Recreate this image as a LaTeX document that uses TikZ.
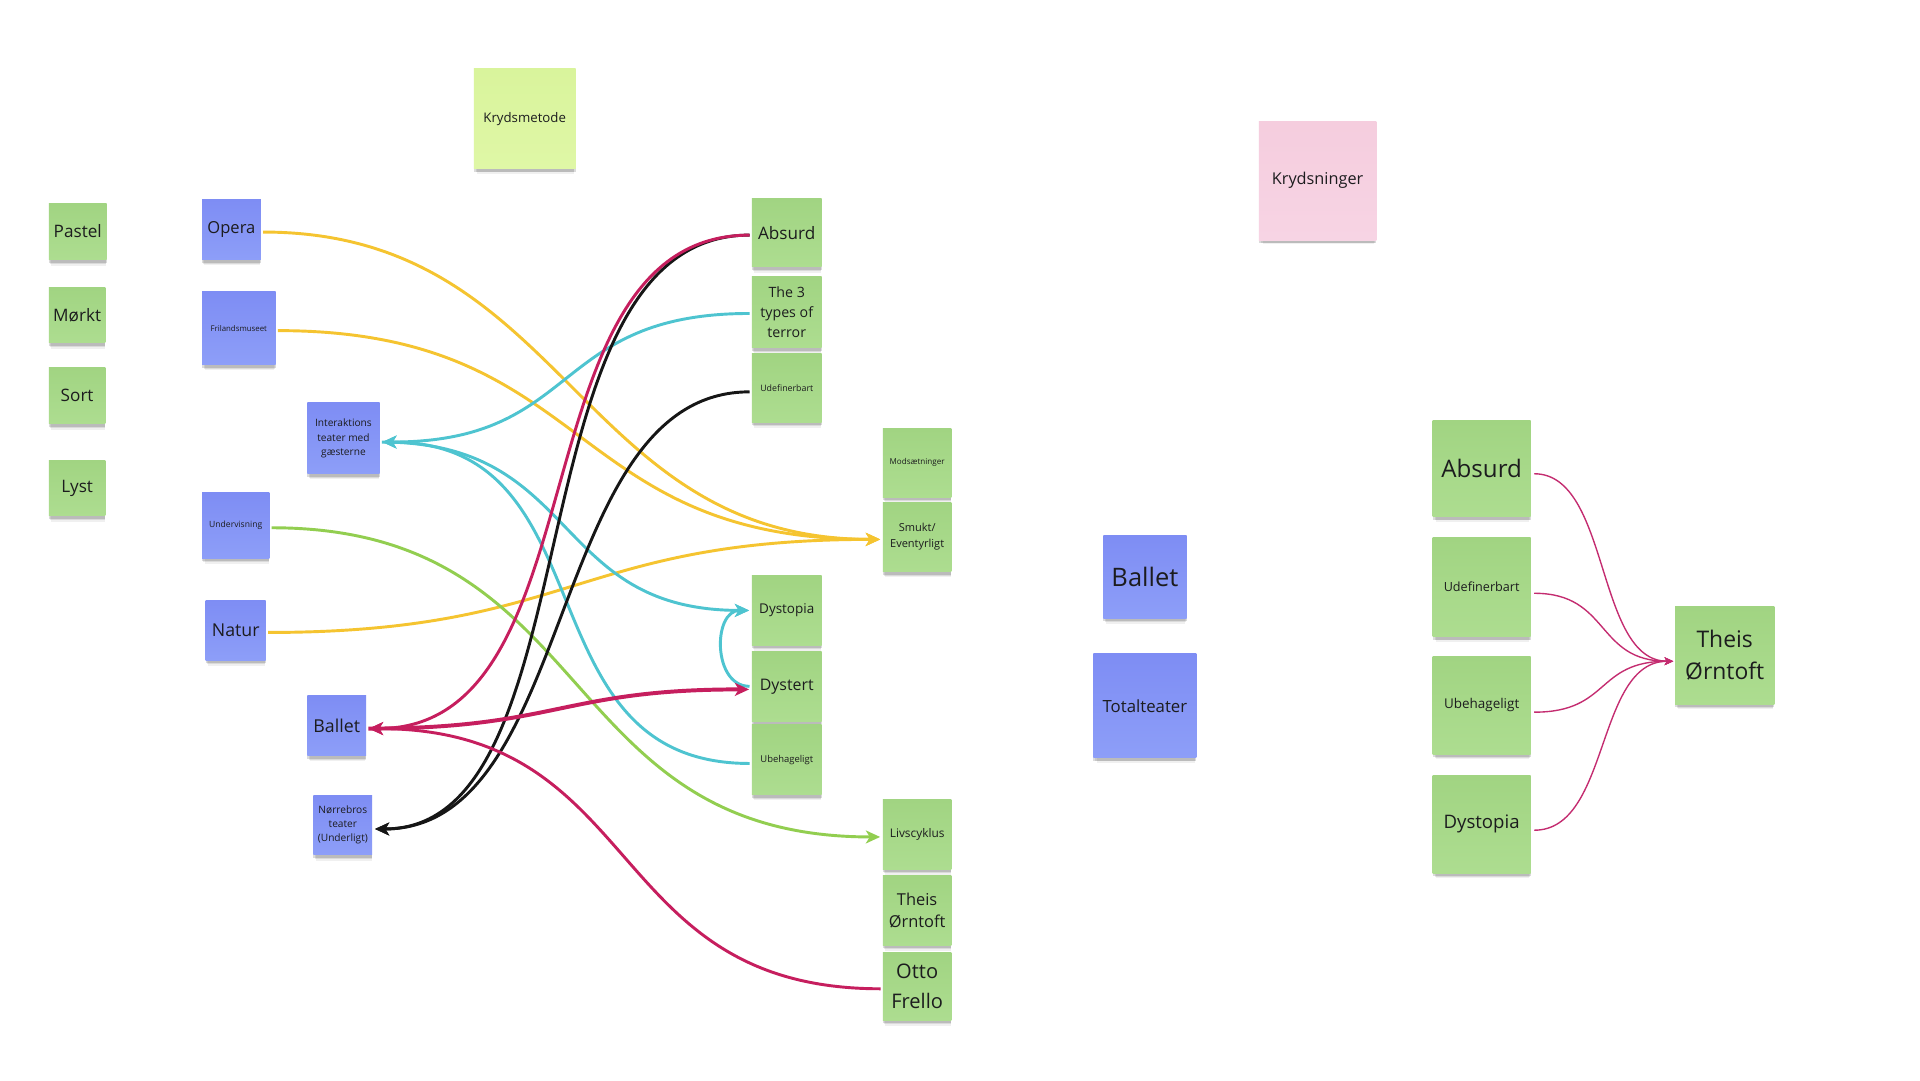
\documentclass[tikz,border=0pt]{standalone}
\usepackage{fontspec}
\setmainfont{Open Sans}
\usetikzlibrary{shadows,arrows.meta}
\definecolor{txt}{RGB}{28,28,30}
\definecolor{gtop}{RGB}{161,212,130}
\definecolor{gbot}{RGB}{173,221,144}
\definecolor{btop}{RGB}{126,141,244}
\definecolor{bbot}{RGB}{141,158,248}
\definecolor{ptop}{RGB}{245,205,222}
\definecolor{pbot}{RGB}{247,212,228}
\definecolor{ltop}{RGB}{217,244,156}
\definecolor{lbot}{RGB}{223,247,166}
\definecolor{yel}{RGB}{245,196,48}
\definecolor{cya}{RGB}{78,196,208}
\definecolor{mag}{RGB}{198,30,94}
\definecolor{blk}{RGB}{22,22,22}
\definecolor{grn}{RGB}{146,206,80}
\definecolor{magtwo}{RGB}{196,44,112}
\newcommand\fszl[2]{\pgfmathsetmacro\fszA{#1*1.4226}\pgfmathsetmacro\fszB{#1*1.4226*#2}\fontsize{\fszA pt}{\fszB pt}\selectfont}
\newcommand\fsz[1]{\fszl{#1}{1.38}}
\tikzset{
  note/.style={rectangle, inner sep=0pt, align=center, text=txt,
    drop shadow={shadow xshift=1pt, shadow yshift=-9pt, opacity=0.06, shadow scale=0.95, fill=black},
    drop shadow={shadow xshift=0.5pt, shadow yshift=-6pt, opacity=0.09, shadow scale=0.97, fill=black},
    drop shadow={shadow xshift=0pt, shadow yshift=-3.5pt, opacity=0.14, fill=black}},
  gnote/.style={note, top color=gtop, bottom color=gbot},
  bnote/.style={note, top color=btop, bottom color=bbot},
  pnote/.style={note, top color=ptop, bottom color=pbot},
  lnote/.style={note, top color=ltop, bottom color=lbot},
  sz/.style 2 args={minimum width=#1*0.5mm, minimum height=#2*0.5mm},
  conn/.style={line width=3.4pt, shorten <=2.5pt, shorten >=3pt},
  arr/.style={-{Stealth[length=16.5pt, width=15pt, inset=4.5pt]}},
  thinconn/.style={line width=1.6pt, magtwo, shorten <=4pt, shorten >=2pt,
    -{Stealth[length=10pt, width=9pt, inset=2.5pt]}},
}
\begin{document}
\begin{tikzpicture}[x=0.5mm, y=-0.5mm]
\useasboundingbox[fill=white] (0,0) rectangle (1568,882);

% left green column
\node[gnote, sz={47}{46}, font=\fsz{14}] (pastel) at (63.5,189) {Pastel};
\node[gnote, sz={46}{45}, font=\fsz{14}] (morkt) at (63,257.5) {Mørkt};
\node[gnote, sz={46}{46}, font=\fsz{14}] (sort) at (63,323) {Sort};
\node[gnote, sz={46}{45}, font=\fsz{14}] (lyst) at (63,398.5) {Lyst};

% blue column
\node[bnote, sz={48}{49}, font=\fsz{13.5}] (opera) at (189,187.5) {Opera};
\node[bnote, sz={60}{60}, font=\fsz{6.4}] (friland) at (195,268) {Frilandsmuseet};
\node[bnote, sz={59}{58}, font={\fszl{8.3}{1.45}}] (interak) at (280.5,358) {Interaktions\\teater med\\gæsterne};
\node[bnote, sz={55}{54}, font=\fsz{7}] (underv) at (192.5,429) {Undervisning};
\node[bnote, sz={49}{49}, font=\fsz{14.5}] (natur) at (192.5,514.5) {Natur};
\node[bnote, sz={48}{49}, font=\fsz{14.5}] (balletl) at (275,592.5) {Ballet};
\node[bnote, sz={48}{48}, font=\fsz{8.3}] (norre) at (280,674) {Nørrebros\\teater\\(Underligt)};

\node[lnote, sz={83}{82}, font=\fsz{10.8}] (krydsm) at (428.5,97) {Krydsmetode};

% middle green column
\node[gnote, sz={57}{56}, font=\fsz{14}] (absurd) at (642.5,190) {Absurd};
\node[gnote, sz={57}{58}, font=\fsz{11.6}] (terror) at (642.5,255) {The 3\\types of\\terror};
\node[gnote, sz={57}{56}, font=\fsz{7.2}] (udef) at (642.5,317) {Udefinerbart};
\node[gnote, sz={57}{57}, font=\fsz{11}] (dystopia) at (642.5,498.5) {Dystopia};
\node[gnote, sz={57}{57}, font=\fsz{13}] (dystert) at (642.5,560.5) {Dystert};
\node[gnote, sz={57}{57}, font=\fsz{7.7}] (ubehag) at (642.5,620.5) {Ubehageligt};

% right green column
\node[gnote, sz={56}{56}, font=\fsz{6.6}] (mods) at (749,378) {Modsætninger};
\node[gnote, sz={56}{57}, font={\fszl{9}{1.45}}] (smukt) at (749,438.5) {Smukt/\\Eventyrligt};
\node[gnote, sz={56}{57}, font=\fsz{9.7}] (livs) at (749,681.5) {Livscyklus};
\node[gnote, sz={56}{57}, font={\fszl{13.4}{1.34}}] (theism) at (749,743.5) {Theis\\Ørntoft};
\node[gnote, sz={56}{55}, font={\fszl{16.4}{1.46}}] (otto) at (749,805.5) {Otto\\Frello};

% right part
\node[pnote, sz={96}{97}, font=\fsz{13.3}] (krydsn) at (1076,147.5) {Krydsninger};
\node[bnote, sz={68}{68}, font=\fsz{20.8}] (balletr) at (935,471) {Ballet};
\node[bnote, sz={84}{85}, font=\fsz{13.7}] (total) at (935,576.5) {Totalteater};

\node[gnote, sz={80}{79}, font=\fsz{19.7}] (rabsurd) at (1210,382.5) {Absurd};
\node[gnote, sz={80}{81}, font=\fsz{10.3}] (rudef) at (1210,479.5) {Udefinerbart};
\node[gnote, sz={80}{80}, font=\fsz{11}] (rubeh) at (1210,576) {Ubehageligt};
\node[gnote, sz={80}{80}, font=\fsz{15.2}] (rdyst) at (1210,673) {Dystopia};
\node[gnote, sz={81}{80}, font={\fszl{18.7}{1.39}}] (rtheis) at (1408.5,535) {Theis\\Ørntoft};

% ---- connectors ----
% yellow
\draw[conn, yel, arr] ([yshift=-1mm]opera.east) .. controls +(250,0) and +(-250,0) .. ([yshift=-1mm]smukt.west);
\draw[conn, yel, arr] ([yshift=-1mm]friland.east) .. controls +(260,0) and +(-260,0) .. ([yshift=-1mm]smukt.west);
\draw[conn, yel, arr] ([yshift=-1mm]natur.east) .. controls +(250,0) and +(-250,0) .. ([yshift=-1mm]smukt.west);
% green
\draw[conn, grn, arr] ([yshift=-1mm]underv.east) .. controls +(270,0) and +(-270,0) .. ([yshift=-1mm]livs.west);
% cyan
\draw[conn, cya, arr] ([yshift=-0.5mm]terror.west) .. controls +(-165,0) and +(165,0) .. ([yshift=-1.5mm]interak.east);
\draw[conn, cya, arr] ([yshift=-1.5mm]interak.east) .. controls +(165,0) and +(-165,0) .. ([yshift=0mm]dystopia.west);
\draw[conn, cya, arr] ([yshift=-1.5mm]ubehag.west) .. controls +(-190,0) and +(190,0) .. ([yshift=-1.5mm]interak.east);
\draw[conn, cya, arr] ([yshift=0mm]dystert.west) .. controls +(-32,0) and +(-32,0) .. ([yshift=0mm]dystopia.west);
% black
\draw[conn, blk, arr] ([yshift=-1mm]absurd.west) .. controls +(-200,0) and +(185,0) .. ([yshift=-1.5mm]norre.east);
\draw[conn, blk, arr] ([yshift=-1.5mm]udef.west) .. controls +(-168,0) and +(168,0) .. ([yshift=-1.5mm]norre.east);
% magenta
\draw[conn, mag, arr] ([yshift=-1mm]absurd.west) .. controls +(-195,0) and +(195,0) .. ([yshift=-1.25mm]balletl.east);
\draw[conn, mag, arr] ([yshift=-1mm]otto.west) .. controls +(-230,0) and +(230,0) .. ([yshift=-1.25mm]balletl.east);
\draw[conn, mag, line width=4.6pt, arr] ([yshift=-1.25mm]balletl.east) .. controls +(155,0) and +(-155,0) .. ([yshift=-1.25mm]dystert.west);

% right side thin connectors
\draw[thinconn] ([yshift=-2.2mm]rabsurd.east) .. controls +(65,0) and +(-65,0) .. ([yshift=-2.5mm]rtheis.west);
\draw[thinconn] ([yshift=-2.5mm]rudef.east) .. controls +(65,0) and +(-65,0) .. ([yshift=-2.5mm]rtheis.west);
\draw[thinconn] ([yshift=-2.8mm]rubeh.east) .. controls +(65,0) and +(-65,0) .. ([yshift=-2.5mm]rtheis.west);
\draw[thinconn] ([yshift=-2.5mm]rdyst.east) .. controls +(65,0) and +(-65,0) .. ([yshift=-2.5mm]rtheis.west);
\end{tikzpicture}
\end{document}
